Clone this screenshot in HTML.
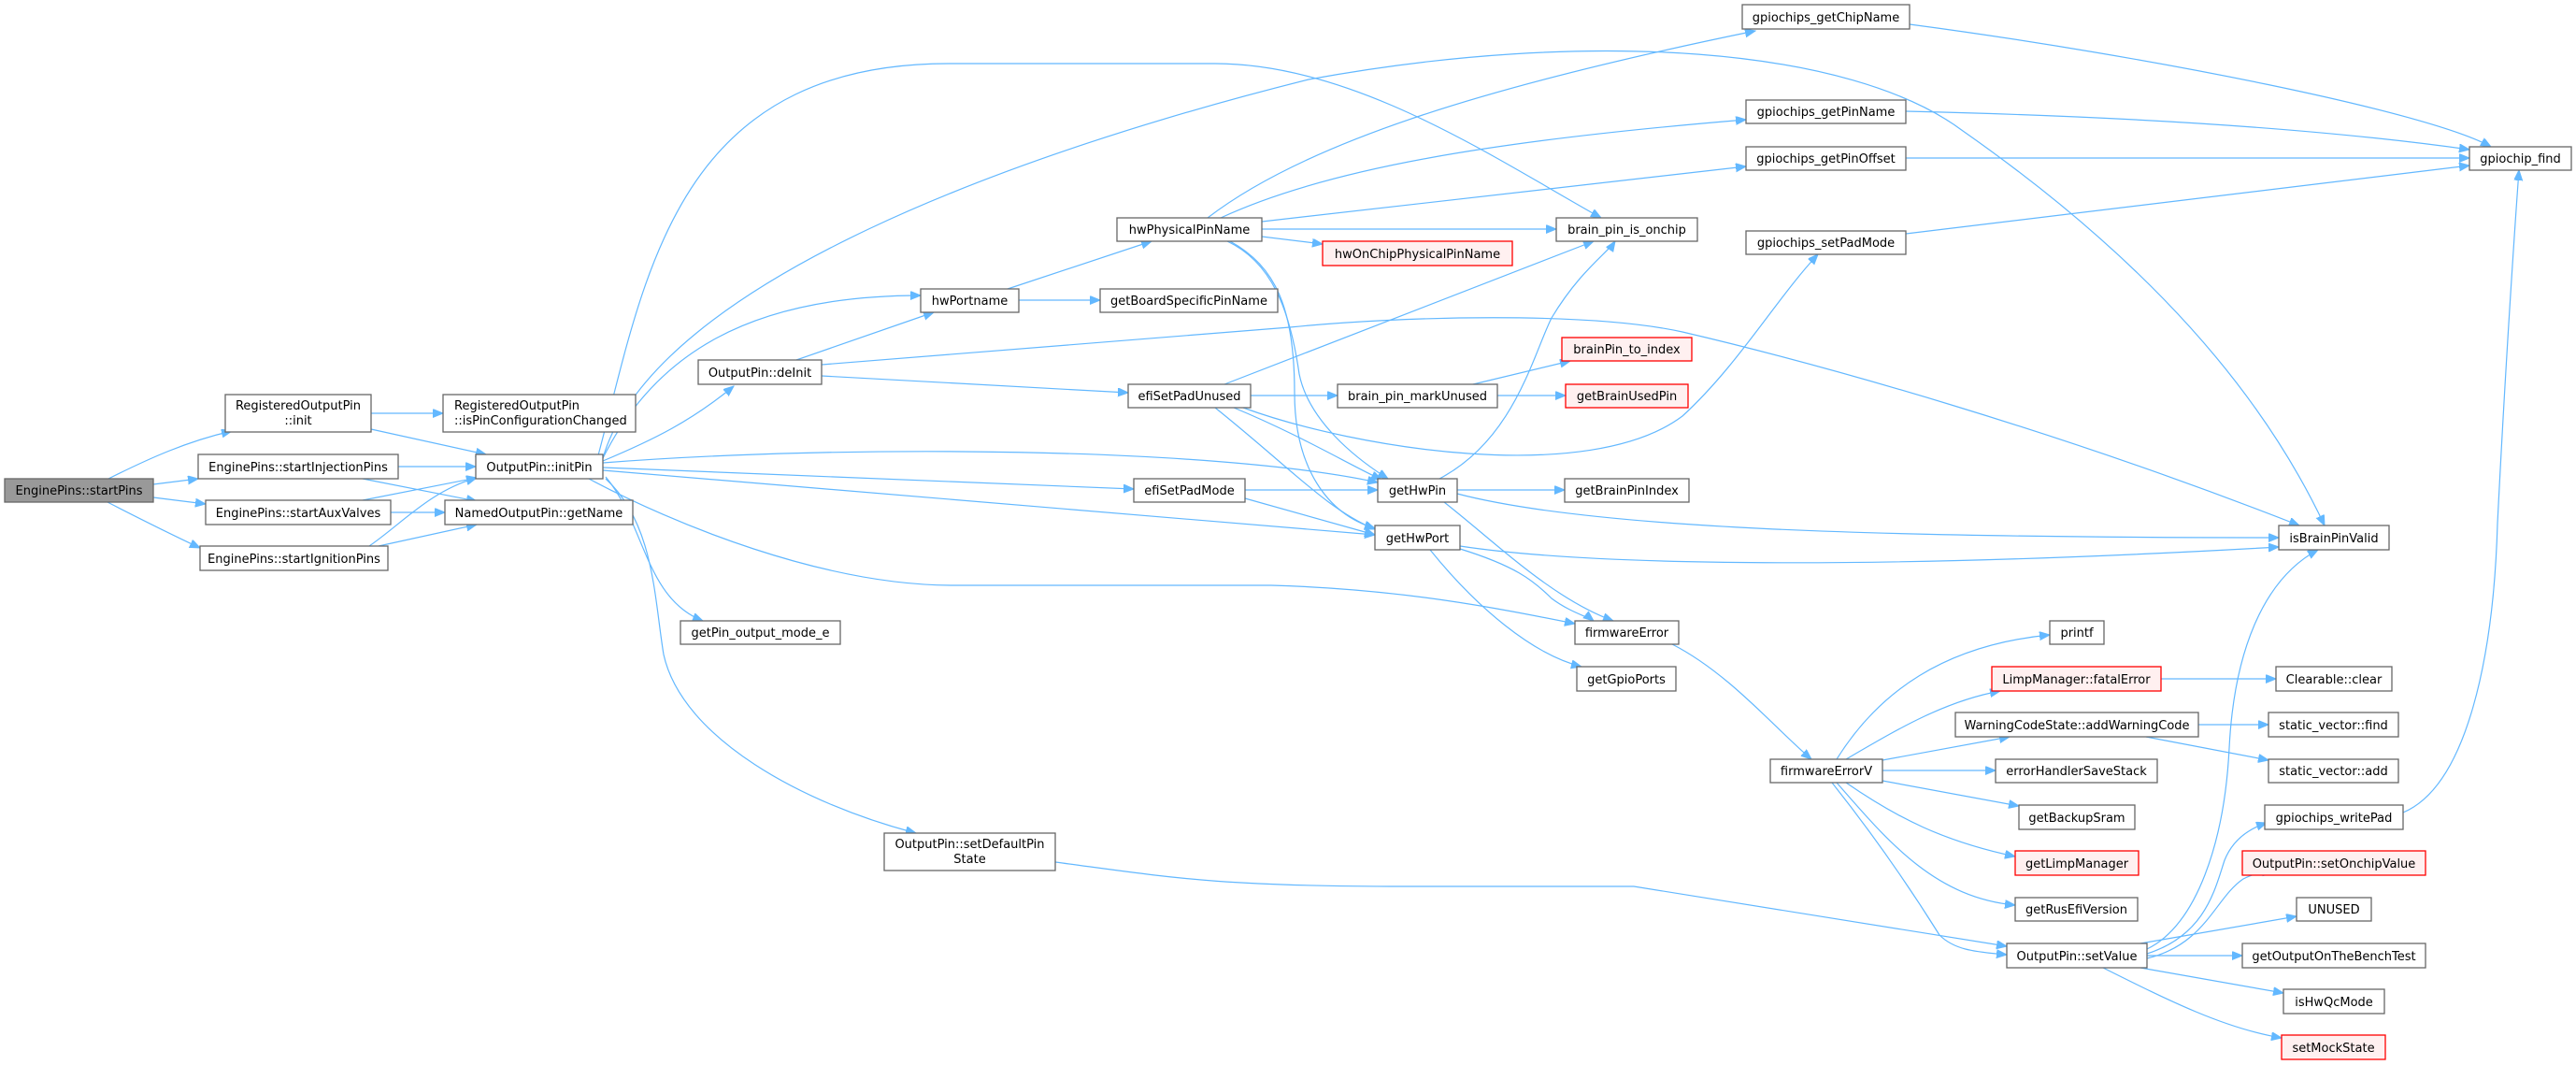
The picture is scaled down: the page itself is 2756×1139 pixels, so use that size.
<!DOCTYPE html>
<html><head><meta charset="utf-8"><style>
html,body{margin:0;padding:0;background:#fff;}
svg{display:block;}
text{font-family:"DejaVu Sans","Liberation Sans",sans-serif;font-size:13px;fill:#000;}
.n{fill:#fff;stroke:#666;stroke-width:1.3;}
.r{fill:#fff0f0;stroke:#ff0000;stroke-width:1.3;}
.g{fill:#999;stroke:#666;stroke-width:1.3;}
path.e{fill:none;stroke:#63b8ff;stroke-width:1.2;marker-end:url(#a);}
</style></head><body>
<svg width="2756" height="1139" viewBox="0 0 2756 1139" xmlns="http://www.w3.org/2000/svg">
<defs><marker id="a" markerUnits="userSpaceOnUse" markerWidth="12" markerHeight="10" refX="11" refY="4.5" orient="auto"><path d="M0,0 L11,4.5 L0,9 z" fill="#63b8ff" stroke="#63b8ff"/></marker></defs>

<path class="e" d="M116,512 C160,490 200,472 248,461"/>
<path class="e" d="M164,518 L212,512"/>
<path class="e" d="M164,532 L220,539"/>
<path class="e" d="M115,537 C150,555 180,570 214,586"/>
<path class="e" d="M397,442 L474,442"/>
<path class="e" d="M397,459 L520,486"/>
<path class="e" d="M426,499 L509,499"/>
<path class="e" d="M388,512 L510,536"/>
<path class="e" d="M388,535 L510,511"/>
<path class="e" d="M418,548 L476,548"/>
<path class="e" d="M395,584 C430,560 460,525 510,511"/>
<path class="e" d="M405,584 L510,561"/>

<path class="e" d="M640,487 C690,300 720,68 1015,68 L1300,68 C1450,68 1600,170 1713,233"/>
<path class="e" d="M645,490 C700,300 1100,160 1400,85 C1700,30 1980,50 2100,140 C2300,280 2420,420 2487,562"/>
<path class="e" d="M645,490 C700,380 800,316 985,316"/>
<path class="e" d="M645,493 C700,470 740,450 785,413"/>
<path class="e" d="M645,495 C900,475 1300,478 1474,516"/>
<path class="e" d="M645,500 L1213,523"/>
<path class="e" d="M645,503 L1471,572"/>
<path class="e" d="M630,512 C720,560 880,626 1020,626 L1360,626 C1500,630 1600,650 1685,667"/>
<path class="e" d="M648,510 C690,560 690,640 752,664"/>
<path class="e" d="M648,512 C700,560 700,640 710,700 C730,790 860,860 980,891"/>

<path class="e" d="M852,385 L999,334"/>
<path class="e" d="M879,390 L1380,350 C1500,338 1700,333 1800,355 C1950,390 2200,460 2460,562"/>
<path class="e" d="M879,402 L1207,420"/>

<path class="e" d="M1078,309 L1232,258"/>
<path class="e" d="M1090,321 L1177,321"/>

<path class="e" d="M1292,233 C1400,150 1600,90 1878,33"/>
<path class="e" d="M1306,233 C1420,180 1600,150 1868,128"/>
<path class="e" d="M1350,237 L1868,178"/>
<path class="e" d="M1350,245 L1665,245"/>
<path class="e" d="M1350,253 L1415,261"/>
<path class="e" d="M1313,258 C1360,280 1380,330 1390,400 C1400,450 1450,490 1485,512"/>
<path class="e" d="M1316,258 C1365,285 1385,330 1385,420 C1385,500 1420,550 1471,565"/>

<path class="e" d="M1310,411 L1705,258"/>
<path class="e" d="M1338,423 L1431,423"/>
<path class="e" d="M1330,436 C1450,480 1700,520 1800,445 C1860,390 1900,320 1945,272"/>
<path class="e" d="M1320,436 C1390,465 1440,495 1478,513"/>
<path class="e" d="M1300,436 C1380,500 1420,545 1471,566"/>
<path class="e" d="M1332,524 L1474,524"/>
<path class="e" d="M1332,533 L1471,572"/>

<path class="e" d="M1540,512 C1620,470 1640,380 1660,340 C1690,290 1720,270 1728,258"/>
<path class="e" d="M1559,524 L1674,524"/>
<path class="e" d="M1559,528 C1700,565 2000,575 2438,575"/>
<path class="e" d="M1545,537 C1600,580 1660,640 1726,664"/>
<path class="e" d="M1562,584 C1700,605 2000,610 2438,585"/>
<path class="e" d="M1562,587 C1620,605 1640,620 1660,640 C1680,655 1700,660 1705,664"/>
<path class="e" d="M1530,588 C1580,650 1640,700 1692,713"/>
<path class="e" d="M1789,689 C1850,720 1900,780 1938,812"/>

<path class="e" d="M1965,812 C2010,740 2080,690 2193,679"/>
<path class="e" d="M1975,812 C2030,780 2080,750 2140,739"/>
<path class="e" d="M2014,813 L2150,788"/>
<path class="e" d="M2014,824 L2135,824"/>
<path class="e" d="M2014,835 L2160,862"/>
<path class="e" d="M1975,837 C2030,875 2080,900 2156,916"/>
<path class="e" d="M1965,837 C2020,900 2070,960 2156,968"/>
<path class="e" d="M1960,837 C2010,900 2050,960 2075,1000 C2090,1015 2110,1018 2147,1021"/>
<path class="e" d="M1129,922 C1250,938 1300,948 1500,948 L1748,948 L2147,1012"/>

<path class="e" d="M2297,1015 C2350,990 2380,900 2385,800 C2390,700 2420,620 2480,588"/>
<path class="e" d="M2297,1020 C2360,1000 2370,950 2380,920 C2390,895 2410,885 2425,880"/>
<path class="e" d="M2297,1025 C2360,1010 2370,960 2400,940 C2410,935 2420,932 2432,934"/>
<path class="e" d="M2290,1009 L2457,980"/>
<path class="e" d="M2297,1022 L2399,1022"/>
<path class="e" d="M2290,1035 L2443,1062"/>
<path class="e" d="M2250,1035 C2320,1070 2380,1100 2441,1110"/>

<path class="e" d="M2312,726 L2435,726"/>
<path class="e" d="M2352,775 L2427,775"/>
<path class="e" d="M2296,788 L2427,813"/>
<path class="e" d="M2571,869 C2640,840 2668,700 2672,560 C2680,400 2690,250 2695,182"/>
<path class="e" d="M2043,26 C2300,60 2600,120 2665,157"/>
<path class="e" d="M2039,119 C2300,125 2500,140 2642,160"/>
<path class="e" d="M2039,169 L2642,169"/>
<path class="e" d="M2039,250 L2642,177"/>
<path class="e" d="M1576,411 L1680,386"/>
<path class="e" d="M1602,423 L1675,423"/>

<rect class="g" x="5" y="512" width="159" height="25"/><text x="84.5" y="529" text-anchor="middle">EnginePins::startPins</text>
<rect class="n" x="241" y="422" width="156" height="40"/><text x="319" y="438" text-anchor="middle">RegisteredOutputPin</text><text x="319" y="454" text-anchor="middle">::init</text>
<rect class="n" x="212" y="486" width="214" height="26"/><text x="319" y="504" text-anchor="middle">EnginePins::startInjectionPins</text>
<rect class="n" x="220" y="535" width="198" height="26"/><text x="319" y="553" text-anchor="middle">EnginePins::startAuxValves</text>
<rect class="n" x="214" y="584" width="201" height="26"/><text x="314.5" y="602" text-anchor="middle">EnginePins::startIgnitionPins</text>
<rect class="n" x="474" y="422" width="206" height="40"/><text x="486" y="438">RegisteredOutputPin</text><text x="486" y="454">::isPinConfigurationChanged</text>
<rect class="n" x="509" y="486" width="136" height="26"/><text x="577" y="504" text-anchor="middle">OutputPin::initPin</text>
<rect class="n" x="476" y="535" width="201" height="26"/><text x="576.5" y="553" text-anchor="middle">NamedOutputPin::getName</text>
<rect class="n" x="1195" y="233" width="155" height="25"/><text x="1272.5" y="250" text-anchor="middle">hwPhysicalPinName</text>
<rect class="n" x="985" y="309" width="105" height="25"/><text x="1037.5" y="326" text-anchor="middle">hwPortname</text>
<rect class="n" x="1177" y="309" width="190" height="25"/><text x="1272" y="326" text-anchor="middle">getBoardSpecificPinName</text>
<rect class="n" x="747" y="385" width="132" height="26"/><text x="813" y="403" text-anchor="middle">OutputPin::deInit</text>
<rect class="n" x="1207" y="411" width="131" height="25"/><text x="1272.5" y="428" text-anchor="middle">efiSetPadUnused</text>
<rect class="n" x="1213" y="512" width="119" height="25"/><text x="1272.5" y="529" text-anchor="middle">efiSetPadMode</text>
<rect class="n" x="1864" y="5" width="179" height="26"/><text x="1953.5" y="23" text-anchor="middle">gpiochips_getChipName</text>
<rect class="n" x="1868" y="107" width="171" height="25"/><text x="1953.5" y="124" text-anchor="middle">gpiochips_getPinName</text>
<rect class="n" x="1868" y="157" width="171" height="25"/><text x="1953.5" y="174" text-anchor="middle">gpiochips_getPinOffset</text>
<rect class="n" x="1665" y="233" width="151" height="25"/><text x="1740.5" y="250" text-anchor="middle">brain_pin_is_onchip</text>
<rect class="r" x="1415" y="258" width="203" height="26"/><text x="1516.5" y="276" text-anchor="middle">hwOnChipPhysicalPinName</text>
<rect class="n" x="1868" y="247" width="171" height="25"/><text x="1953.5" y="264" text-anchor="middle">gpiochips_setPadMode</text>
<rect class="r" x="1671" y="361" width="139" height="25"/><text x="1740.5" y="378" text-anchor="middle">brainPin_to_index</text>
<rect class="r" x="1675" y="411" width="131" height="25"/><text x="1740.5" y="428" text-anchor="middle">getBrainUsedPin</text>
<rect class="n" x="1431" y="411" width="171" height="25"/><text x="1516.5" y="428" text-anchor="middle">brain_pin_markUnused</text>
<rect class="n" x="1474" y="512" width="85" height="25"/><text x="1516.5" y="529" text-anchor="middle">getHwPin</text>
<rect class="n" x="1674" y="512" width="133" height="25"/><text x="1740.5" y="529" text-anchor="middle">getBrainPinIndex</text>
<rect class="n" x="2642" y="157" width="109" height="25"/><text x="2696.5" y="174" text-anchor="middle">gpiochip_find</text>
<rect class="n" x="2438" y="562" width="118" height="26"/><text x="2497" y="580" text-anchor="middle">isBrainPinValid</text>
<rect class="n" x="1471" y="562" width="91" height="26"/><text x="1516.5" y="580" text-anchor="middle">getHwPort</text>
<rect class="n" x="1685" y="664" width="111" height="25"/><text x="1740.5" y="681" text-anchor="middle">firmwareError</text>
<rect class="n" x="1687" y="713" width="106" height="26"/><text x="1740" y="731" text-anchor="middle">getGpioPorts</text>
<rect class="n" x="1894" y="812" width="120" height="25"/><text x="1954" y="829" text-anchor="middle">firmwareErrorV</text>
<rect class="n" x="728" y="664" width="171" height="25"/><text x="813.5" y="681" text-anchor="middle">getPin_output_mode_e</text>
<rect class="n" x="946" y="891" width="183" height="40"/><text x="1037.5" y="907" text-anchor="middle">OutputPin::setDefaultPin</text><text x="1037.5" y="923" text-anchor="middle">State</text>
<rect class="n" x="2193" y="664" width="58" height="25"/><text x="2222" y="681" text-anchor="middle">printf</text>
<rect class="r" x="2131" y="713" width="181" height="26"/><text x="2221.5" y="731" text-anchor="middle">LimpManager::fatalError</text>
<rect class="n" x="2435" y="713" width="124" height="26"/><text x="2497" y="731" text-anchor="middle">Clearable::clear</text>
<rect class="n" x="2092" y="762" width="260" height="26"/><text x="2222" y="780" text-anchor="middle">WarningCodeState::addWarningCode</text>
<rect class="n" x="2427" y="762" width="139" height="26"/><text x="2496.5" y="780" text-anchor="middle">static_vector::find</text>
<rect class="n" x="2427" y="812" width="139" height="25"/><text x="2496.5" y="829" text-anchor="middle">static_vector::add</text>
<rect class="n" x="2135" y="812" width="173" height="25"/><text x="2221.5" y="829" text-anchor="middle">errorHandlerSaveStack</text>
<rect class="n" x="2160" y="861" width="124" height="26"/><text x="2222" y="879" text-anchor="middle">getBackupSram</text>
<rect class="n" x="2423" y="861" width="148" height="26"/><text x="2497" y="879" text-anchor="middle">gpiochips_writePad</text>
<rect class="r" x="2156" y="910" width="132" height="26"/><text x="2222" y="928" text-anchor="middle">getLimpManager</text>
<rect class="r" x="2399" y="910" width="196" height="26"/><text x="2497" y="928" text-anchor="middle">OutputPin::setOnchipValue</text>
<rect class="n" x="2156" y="960" width="131" height="25"/><text x="2221.5" y="977" text-anchor="middle">getRusEfiVersion</text>
<rect class="n" x="2457" y="960" width="80" height="25"/><text x="2497" y="977" text-anchor="middle">UNUSED</text>
<rect class="n" x="2147" y="1009" width="150" height="26"/><text x="2222" y="1027" text-anchor="middle">OutputPin::setValue</text>
<rect class="n" x="2399" y="1009" width="196" height="26"/><text x="2497" y="1027" text-anchor="middle">getOutputOnTheBenchTest</text>
<rect class="n" x="2443" y="1058" width="108" height="26"/><text x="2497" y="1076" text-anchor="middle">isHwQcMode</text>
<rect class="r" x="2441" y="1107" width="111" height="26"/><text x="2496.5" y="1125" text-anchor="middle">setMockState</text>
</svg>
</body></html>
